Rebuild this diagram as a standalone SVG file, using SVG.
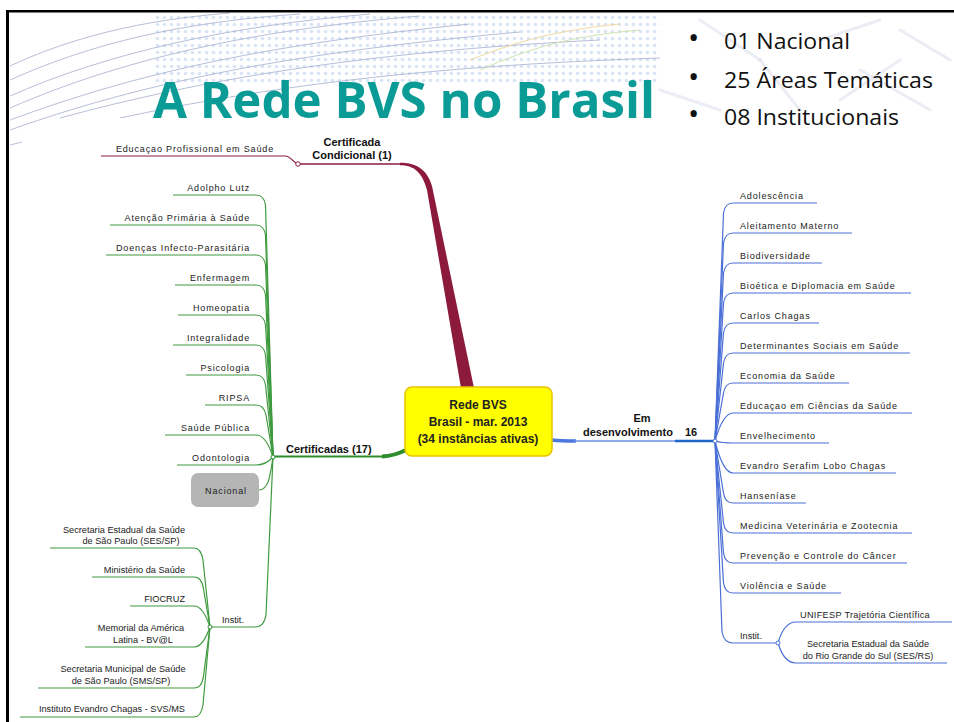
<svg xmlns="http://www.w3.org/2000/svg" width="954" height="722" viewBox="0 0 954 722">
<defs>
<style>
.lf{font-family:"Liberation Sans",Arial,sans-serif;font-size:9px;letter-spacing:0.85px;fill:#222}
.in{font-family:"Liberation Sans",Arial,sans-serif;font-size:9.2px;fill:#222}
.bd{font-family:"Liberation Sans",Arial,sans-serif;font-size:11px;font-weight:bold;fill:#111}
.bx{font-family:"Liberation Sans",Arial,sans-serif;font-size:12px;font-weight:bold;fill:#222}
.bl{font-family:"Open Sans","Liberation Sans",Arial,sans-serif;font-size:21px;fill:#111}
.bu{font-family:"Open Sans","Liberation Sans",Arial,sans-serif;font-size:30px;fill:#111}
.g{fill:none;stroke:#3f9a3f;stroke-width:1.2}
.b{fill:none;stroke:#4a6fd6;stroke-width:1.2}
.sw{fill:none;stroke:#aab3d2;stroke-width:1;opacity:.85}
.st{stroke:#c9cde0;stroke-width:3;stroke-linecap:round;opacity:.35}
</style>
<pattern id="dots" x="0" y="0" width="7" height="7" patternUnits="userSpaceOnUse">
<circle cx="3.5" cy="3.5" r="1.8" fill="#d9e4f4"/>
</pattern>
<clipPath id="clipdev"><rect x="560" y="400" width="113" height="50"/></clipPath>
</defs>
<rect width="954" height="722" fill="#fff"/>
<g id="header-bg">
<rect x="155" y="16" width="505" height="68" fill="url(#dots)"/>
<path class="sw" d="M10,108 C120,60 250,30 420,16"/>
<path class="sw" d="M10,96 C110,52 230,26 370,14"/>
<path class="sw" d="M10,120 C140,72 270,44 470,24"/>
<path class="sw" d="M10,130 C150,80 300,52 520,32"/>
<path class="sw" d="M10,80 C90,44 180,22 300,14"/>
<path class="sw" d="M10,66 C70,38 140,20 230,13"/>
<path class="sw" d="M60,118 C200,80 360,52 600,40"/>
<path class="sw" d="M120,118 C260,88 420,66 660,58"/>
<path class="sw" d="M10,145 L22,142"/>
<path d="M470,60 C520,40 560,30 620,24" fill="none" stroke="#f0d9a0" stroke-width="1"/>
<path d="M480,70 C530,48 570,36 640,30" fill="none" stroke="#cfe3b0" stroke-width="1"/>
<line class="st" x1="700" y1="20" x2="760" y2="60"/>
<line class="st" x1="760" y1="60" x2="800" y2="110"/>
<line class="st" x1="820" y1="40" x2="880" y2="20"/>
<line class="st" x1="860" y1="70" x2="930" y2="110"/>
<line class="st" x1="900" y1="30" x2="950" y2="60"/>
<line class="st" x1="840" y1="100" x2="900" y2="60"/>
<line class="st" x1="660" y1="90" x2="720" y2="110"/>
</g>
<rect x="100" y="118" width="854" height="604" fill="#fff"/>
<rect x="10" y="150" width="944" height="572" fill="#fff"/>
<g id="frame" stroke="#000" fill="none">
<line x1="6" y1="11.2" x2="954" y2="11.2" stroke-width="2.6"/>
<line x1="7.5" y1="10" x2="7.5" y2="722" stroke-width="3"/>
</g>
<g id="title">
<text x="153" y="118" font-family="'Open Sans','Liberation Sans',Arial,sans-serif" font-size="51" font-weight="bold" fill="#0a9b96" textLength="502" lengthAdjust="spacingAndGlyphs">A Rede BVS no Brasil</text>
</g>
<g id="bullets">
<text class="bu" x="688" y="48">•</text>
<text class="bl" x="724" y="49" textLength="126" lengthAdjust="spacingAndGlyphs">01 Nacional</text>
<text class="bu" x="688" y="87">•</text>
<text class="bl" x="724" y="88" textLength="209" lengthAdjust="spacingAndGlyphs">25 Áreas Temáticas</text>
<text class="bu" x="688" y="124">•</text>
<text class="bl" x="724" y="125" textLength="175" lengthAdjust="spacingAndGlyphs">08 Institucionais</text>
</g>
<g id="connectors">
<path d="M400,162.8 C414,162.8 427,168 432,186 L474,388 L461,388 L427,190 C422,172 414,165.2 400,165.2 Z" fill="#8c1a3c"/>
<path d="M400,164 H298" fill="none" stroke="#8c1a3c" stroke-width="1.5"/>
<path d="M298,164 C293,163 291,156 285,156 H101" fill="none" stroke="#8c1a3c" stroke-width="1.2"/>
<path d="M406,450 C398,454 392,456 382,456.5" fill="none" stroke="#2e8b2e" stroke-width="4"/>
<path d="M384,456.5 H273" fill="none" stroke="#2e8b2e" stroke-width="2"/>
<path class="g" d="M273,457 L265.5,205 Q264,195 256,195 H173"/>
<path class="g" d="M273,457 L265.5,235 Q264,225 256,225 H110"/>
<path class="g" d="M273,457 L265.5,265 Q264,255 256,255 H106"/>
<path class="g" d="M273,457 L265.5,295 Q264,285 256,285 H175"/>
<path class="g" d="M273,457 L265.5,325 Q264,315 256,315 H178"/>
<path class="g" d="M273,457 L265.5,355 Q264,345 256,345 H173"/>
<path class="g" d="M273,457 L265.5,385 Q264,375 256,375 H186"/>
<path class="g" d="M273,457 L266,415 Q264,405 256,405 H205"/>
<path class="g" d="M273,457 Q266,435 256,435 H165"/>
<path class="g" d="M273,457 Q266,465 256,465 H177"/>
<path class="g" d="M273,457 C270,478 268,490 259,490"/>
<path class="g" d="M273,457 L266,615 Q264,627 255,627 H210"/>
<path class="g" d="M210,627 L203,560 Q201,548 194,548 H50"/>
<path class="g" d="M210,627 L203.5,589 Q202,577 194,577 H92"/>
<path class="g" d="M210,627 Q203,606 194,606 H130"/>
<path class="g" d="M210,627 Q203,647 194,647 H85"/>
<path class="g" d="M210,627 L203.5,676 Q202,688 194,688 H38"/>
<path class="g" d="M210,627 L203,705 Q201,717 194,717 H20"/>
<path d="M552,440 C560,441 566,441 576,441" fill="none" stroke="#4a78e0" stroke-width="3.5"/>
<path d="M574,441 H676" fill="none" stroke="#6a8ee6" stroke-width="1.6"/>
<path d="M675,441 H715" fill="none" stroke="#1f68c8" stroke-width="2.6"/>
<path class="b" d="M715,441 L723.5,213 Q725,203 733,203 H817"/>
<path class="b" d="M715,441 L723.5,243 Q725,233 733,233 H852"/>
<path class="b" d="M715,441 L723.5,273 Q725,263 733,263 H822"/>
<path class="b" d="M715,441 L723.5,303 Q725,293 733,293 H911"/>
<path class="b" d="M715,441 L723.5,333 Q725,323 733,323 H819"/>
<path class="b" d="M715,441 L723.5,363 Q725,353 733,353 H910"/>
<path class="b" d="M715,441 L723.5,393 Q725,383 733,383 H849"/>
<path class="b" d="M715,441 Q723,413 733,413 H912"/>
<path class="b" d="M715,441 Q722,443 733,443 H829"/>
<path class="b" d="M715,441 Q723,473 733,473 H896"/>
<path class="b" d="M715,441 L723.5,493 Q725,503 733,503 H806"/>
<path class="b" d="M715,441 L723.5,523 Q725,533 733,533 H912"/>
<path class="b" d="M715,441 L723.5,553 Q725,563 733,563 H907"/>
<path class="b" d="M715,441 L723.5,583 Q725,593 733,593 H841"/>
<path class="b" d="M715,441 L722,632 Q724,643 733,643 H778"/>
<path class="b" d="M778,643 Q784,622 796,622 H952"/>
<path class="b" d="M778,643 Q784,663 796,663 H947"/>
<circle cx="298" cy="164" r="2.3" fill="#fff" stroke="#8c1a3c" stroke-width="1"/>
<circle cx="273" cy="457" r="2" fill="#fff" stroke="#2e8b2e" stroke-width="1"/>
<circle cx="210" cy="627" r="2" fill="#fff" stroke="#2e8b2e" stroke-width="1"/>
<circle cx="715" cy="441" r="2" fill="#fff" stroke="#4a6fd6" stroke-width="1"/>
<circle cx="778" cy="643" r="2" fill="#fff" stroke="#4a6fd6" stroke-width="1"/>
</g>
<g id="center">
<rect x="405" y="387" width="147" height="69" rx="7" fill="#ffff00" stroke="#e8c400" stroke-width="1.5"/>
<text class="bx" x="478" y="409" text-anchor="middle">Rede BVS</text>
<text class="bx" x="478" y="426" text-anchor="middle">Brasil - mar. 2013</text>
<text class="bx" x="478" y="443" text-anchor="middle">(34 instâncias ativas)</text>
</g>
<g id="cert-cond">
<text class="bd" x="352" y="146" text-anchor="middle">Certificada</text>
<text class="bd" x="352" y="159" text-anchor="middle">Condicional (1)</text>
</g>
<g id="educacao"><text class="lf" x="274" y="152" text-anchor="end">Educaçao Profissional em Saúde</text></g>
<g id="certificadas"><text class="bd" x="286" y="453">Certificadas (17)</text></g>
<g id="left-leaves">
<text class="lf" x="250" y="191" text-anchor="end">Adolpho Lutz</text>
<text class="lf" x="250" y="221" text-anchor="end">Atenção Primária à Saúde</text>
<text class="lf" x="250" y="251" text-anchor="end">Doenças Infecto-Parasitária</text>
<text class="lf" x="250" y="281" text-anchor="end">Enfermagem</text>
<text class="lf" x="250" y="311" text-anchor="end">Homeopatia</text>
<text class="lf" x="250" y="341" text-anchor="end">Integralidade</text>
<text class="lf" x="250" y="371" text-anchor="end">Psicologia</text>
<text class="lf" x="250" y="401" text-anchor="end">RIPSA</text>
<text class="lf" x="250" y="431" text-anchor="end">Saúde Pública</text>
<text class="lf" x="250" y="461" text-anchor="end">Odontologia</text>
</g>
<g id="nacional">
<rect x="191" y="473" width="68" height="34" rx="7" fill="#b5b5b5"/>
<text class="lf" x="226" y="494" text-anchor="middle" fill="#222">Nacional</text>
</g>
<g id="instit-left">
<text class="in" x="222" y="623">Instit.</text>
<text class="in" x="124" y="533" text-anchor="middle">Secretaria Estadual da Saúde</text>
<text class="in" x="131" y="544" text-anchor="middle">de São Paulo (SES/SP)</text>
<text class="in" x="185" y="573" text-anchor="end">Ministério da Saúde</text>
<text class="in" x="185" y="602" text-anchor="end">FIOCRUZ</text>
<text class="in" x="141" y="631" text-anchor="middle">Memorial da América</text>
<text class="in" x="143" y="643" text-anchor="middle">Latina - BV@L</text>
<text class="in" x="123" y="672" text-anchor="middle">Secretaria Municipal de Saúde</text>
<text class="in" x="121" y="684" text-anchor="middle">de São Paulo (SMS/SP)</text>
<text class="in" x="185" y="712" text-anchor="end">Instituto Evandro Chagas - SVS/MS</text>
</g>
<g id="em-desenv">
<text class="bd" x="642" y="422" text-anchor="middle">Em</text>
<text class="bd" x="583" y="436" font-size="11.6" clip-path="url(#clipdev)">desenvolvimento</text>
<text class="bd" x="685" y="436">16</text>
</g>
<g id="right-leaves">
<text class="lf" x="740" y="199">Adolescência</text>
<text class="lf" x="740" y="229">Aleitamento Materno</text>
<text class="lf" x="740" y="259">Biodiversidade</text>
<text class="lf" x="740" y="289">Bioética e Diplomacia em Saúde</text>
<text class="lf" x="740" y="319">Carlos Chagas</text>
<text class="lf" x="740" y="349">Determinantes Sociais em Saúde</text>
<text class="lf" x="740" y="379">Economia da Saúde</text>
<text class="lf" x="740" y="409">Educaçao em Ciências da Saúde</text>
<text class="lf" x="740" y="439">Envelhecimento</text>
<text class="lf" x="740" y="469">Evandro Serafim Lobo Chagas</text>
<text class="lf" x="740" y="499">Hanseníase</text>
<text class="lf" x="740" y="529">Medicina Veterinária e Zootecnia</text>
<text class="lf" x="740" y="559">Prevenção e Controle do Câncer</text>
<text class="lf" x="740" y="589">Violência e Saúde</text>
</g>
<g id="instit-right">
<text class="in" x="740" y="639">Instit.</text>
<text class="in" x="865" y="618" text-anchor="middle" letter-spacing="0.3">UNIFESP Trajetória Científica</text>
<text class="in" x="868" y="647" text-anchor="middle">Secretaria Estadual da Saúde</text>
<text class="in" x="868" y="659" text-anchor="middle">do Rio Grande do Sul (SES/RS)</text>
</g>
</svg>
